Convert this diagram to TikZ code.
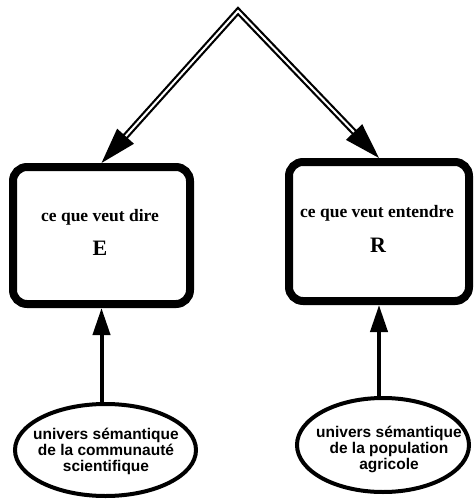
\documentclass[tikz,border=0pt]{standalone}
\usepackage{fontspec}
\setmainfont{Liberation Serif}
\newfontfamily\ellfont{Liberation Sans}
\usetikzlibrary{arrows.meta,shapes.geometric}
\begin{document}
\begin{tikzpicture}[x=1pt,y=-1pt,
 boxstyle/.style={draw, line width=8pt, rounded corners=14pt, inner sep=0pt},
 ellstyle/.style={draw, ellipse, line width=4pt, inner sep=0pt},
 boxtext/.style={font=\fontsize{17.5}{20}\selectfont\bfseries, inner sep=0pt},
 bigletter/.style={font=\fontsize{22}{24}\selectfont\bfseries, inner sep=0pt},
 elltext/.style={font=\ellfont\bfseries\fontsize{15.5}{16}\selectfont, align=center, inner sep=0pt},
 dblarrow/.style={double, double distance=2pt, line width=2.2pt, line join=miter},
 uparrow/.style={line width=4pt, -{Triangle[length=27pt,width=17pt]}}
]
\useasboundingbox (0,0) rectangle (475,501);
\node[boxstyle, minimum width=177pt, minimum height=137pt] (E) at (101.5,235.5) {};
\node[boxstyle, minimum width=180pt, minimum height=139pt] (R) at (379,231.5) {};
\node[boxtext] (tE) at (100,217) {ce que veut dire};
\node[bigletter] (lE) at (100,248) {E};
\node[boxtext] (tR) at (377,213) {ce que veut entendre};
\node[bigletter] (lR) at (378,245) {R};
\node[ellstyle, minimum width=181pt, minimum height=92pt] (U1) at (105.5,450) {};
\node[ellstyle, minimum width=172pt, minimum height=94pt] (U2) at (383,445) {};
\node[elltext] (t1) at (106,451) {univers sémantique\\de la communauté\\scientifique};
\node[elltext] (t2) at (389,449) {univers sémantique\\de la population\\agricole};
\coordinate (apex) at (238,11);
\draw[dblarrow, {Triangle[length=36pt,width=22pt]}-{Triangle[length=36pt,width=22pt]}] (E.north) -- (apex) -- (R.north);
\draw[uparrow] (U1.north -| E.south) -- (E.south);
\draw[uparrow] (U2.north -| R.south) -- (R.south);
\end{tikzpicture}
\end{document}
